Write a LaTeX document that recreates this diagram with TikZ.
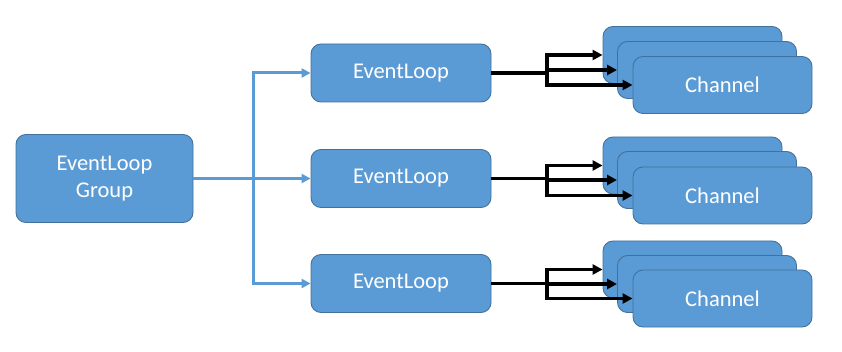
\documentclass[tikz,border=0pt]{standalone}
\usepackage{fontspec}
\setmainfont{Carlito}
\usetikzlibrary{arrows.meta}
\definecolor{boxfill}{HTML}{5B9BD5}
\definecolor{boxline}{HTML}{41719C}
\definecolor{blueline}{HTML}{5B9BD5}
\tikzset{
  box/.style={draw=boxline, line width=0.9pt, fill=boxfill, rounded corners=10pt,
    text=white, font=\fontsize{22.5}{27}\selectfont, align=center, inner sep=0pt},
  elbox/.style={box, minimum width=180pt, minimum height=58pt},
  chbox/.style={box, minimum width=179pt, minimum height=57pt},
  bluearrow/.style={draw=blueline, line width=3pt, -{Triangle[length=9pt,width=9pt]}},
  blueplain/.style={draw=blueline, line width=3pt},
  blackarrow/.style={draw=black, line width=3.2pt, -{Triangle[length=10pt,width=10pt]}},
  blackplain/.style={draw=black, line width=3.2pt},
}
\begin{document}
\begin{tikzpicture}[x=1pt,y=-1pt]
\useasboundingbox (0,0) rectangle (842,352);
% group
\node[box, minimum width=177pt, minimum height=88pt] (g) at (104.5,178.5) {EventLoop\\Group};
% event loops
\node[elbox] (e1) at (401,73) {EventLoop};
\node[elbox] (e2) at (401,178.5) {EventLoop};
\node[elbox] (e3) at (401,283.5) {EventLoop};
% channel stacks
\node[chbox] (a1) at (692.5,55) {};
\node[chbox] (a2) at (707,70) {};
\node[chbox] (a3) at (722.5,85) {Channel};
\node[chbox] (b1) at (692.5,165.5) {};
\node[chbox] (b2) at (707,180) {};
\node[chbox] (b3) at (722.5,195.5) {Channel};
\node[chbox] (c1) at (692.5,269.5) {};
\node[chbox] (c2) at (707,284) {};
\node[chbox] (c3) at (722.5,298.5) {Channel};
% blue connectors
\coordinate (bj) at (253.5,178.5);
\draw[blueplain] (g.east) -- (bj);
\draw[bluearrow] (bj) |- (e1.west);
\draw[bluearrow] (bj) -- (e2.west);
\draw[bluearrow] (bj) |- (e3.west);
% black connectors
\coordinate (j1) at (547,73);
\coordinate (j2) at (547,178.5);
\coordinate (j3) at (547,283.5);
\draw[blackplain] (e1.east) -- (j1);
\draw[blackarrow] (j1) |- (a1.west);
\draw[blackarrow] (j1) |- (a2.west);
\draw[blackarrow] (j1) |- (a3.west);
\draw[blackplain] (e2.east) -- (j2);
\draw[blackarrow] (j2) |- (b1.west);
\draw[blackarrow] (j2) |- (b2.west);
\draw[blackarrow] (j2) |- (b3.west);
\draw[blackplain] (e3.east) -- (j3);
\draw[blackarrow] (j3) |- (c1.west);
\draw[blackarrow] (j3) |- (c2.west);
\draw[blackarrow] (j3) |- (c3.west);
\end{tikzpicture}
\end{document}
